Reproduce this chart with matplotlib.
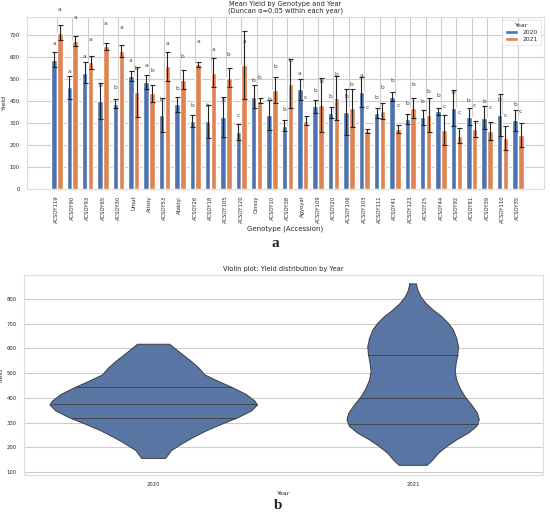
import numpy as np
import matplotlib
matplotlib.use("Agg")
import matplotlib.pyplot as plt
import seaborn as sns

# =================================================================
# Datos
# =================================================================
genotypes = ["ACSOY119", "ACSOY90", "ACSOY93", "ACSOY65", "ACSOY30", "Umut", "Arisoy",
             "ACSOY53", "Atakişi", "ACSOY26", "ACSOY18", "ACSOY105", "ACSOY120", "Cinsoy",
             "ACSOY10", "ACSOY38", "Agyoyal", "ACSOY109", "ACSOY20", "ACSOY106", "ACSOY103",
             "ACSOY111", "ACSOY41", "ACSOY123", "ACSOY25", "ACSOY44", "ACSOY92", "ACSOY81",
             "ACSOY39", "ACSOY110", "ACSOY35"]

mean_2020 = [587, 461, 528, 398, 387, 512, 487, 335, 383, 306, 306, 327, 260, 419, 335,
             287, 452, 375, 346, 348, 441, 344, 419, 317, 326, 352, 367, 328, 323, 334, 311]
err_2020 = [34, 52, 48, 81, 21, 24, 32, 78, 36, 27, 74, 91, 36, 54, 68,
            24, 47, 29, 25, 104, 68, 23, 22, 23, 34, 17, 83, 39, 52, 95, 49]
letters_2020 = ["a", "a", "a", "b", "b", "a", "a", "b", "b", "b", "b", "b", "c", "b", "b",
                "b", "a", "b", "b", "b", "a", "b", "b", "b", "b", "b", "b", "b", "b", "b", "b"]

mean_2021 = [709, 671, 575, 647, 626, 440, 434, 556, 496, 565, 528, 505, 563, 401, 451,
             478, 310, 381, 412, 367, 264, 353, 272, 367, 335, 267, 242, 273, 263, 230, 245]
err_2021 = [33, 23, 30, 17, 28, 114, 39, 65, 42, 11, 66, 44, 155, 11, 59,
            112, 21, 121, 99, 86, 9, 36, 20, 46, 77, 68, 36, 36, 39, 55, 53]
letters_2021 = ["a", "a", "a", "a", "a", "b", "b", "a", "b", "a", "a", "b", "a", "b", "b",
                "b", "c", "b", "b", "b", "c", "b", "c", "b", "b", "c", "c", "c", "c", "c", "c"]

years = ["2020", "2021"]

# Contorno del violín (rendimiento, semi-ancho en unidades del eje x)
v2020_yield = [617, 600, 573, 547, 520, 493, 467, 440, 413, 387, 371, 347, 320, 293,
               267, 240, 213, 187, 155]
v2020_half = [0.062, 0.082, 0.114, 0.146, 0.175, 0.197, 0.249, 0.307, 0.358, 0.390,
              0.400, 0.377, 0.326, 0.262, 0.204, 0.153, 0.108, 0.069, 0.046]
v2021_yield = [861, 836, 809, 782, 755, 729, 702, 675, 641, 607, 574, 540, 506, 472,
               439, 405, 371, 338, 311, 284, 257, 230, 203, 176, 149, 127]
v2021_half = [0.013, 0.018, 0.030, 0.050, 0.078, 0.110, 0.136, 0.155, 0.168, 0.175,
              0.172, 0.166, 0.162, 0.168, 0.181, 0.200, 0.226, 0.248, 0.255, 0.245,
              0.213, 0.168, 0.130, 0.098, 0.076, 0.054]
quart_2020 = [317, 376, 444]
quart_2021 = [293, 398, 572]

# =================================================================
# Estilo
# =================================================================
sns.set_style("whitegrid")
plt.rcParams['font.family'] = ['DejaVu Sans']
plt.rcParams['font.size'] = 4.5
blue = "#4C72B0"
orange = "#DD8452"
violin_col = "#5875A4"
txt = "#262626"

fig = plt.figure(figsize=(5.5, 5.16), dpi=100)

# =================================================================
# (a) Barras por genotipo y año
# =================================================================
ax1 = fig.add_axes([0.049, 0.634, 0.940, 0.333])
x = np.arange(len(genotypes))
w = 0.36
ekw = dict(ecolor="#222222", elinewidth=0.8, capsize=1.8, capthick=0.8)
ax1.bar(x - 0.19, mean_2020, w, yerr=err_2020, color=blue, label=years[0], error_kw=ekw, zorder=2)
ax1.bar(x + 0.19, mean_2021, w, yerr=err_2021, color=orange, label=years[1], error_kw=ekw, zorder=2)
for i in range(len(genotypes)):
    ax1.text(x[i] - 0.19, mean_2020[i] + 72, letters_2020[i], ha="center", va="center",
             fontsize=4.3, color="#444444")
    ax1.text(x[i] + 0.19, mean_2021[i] + 105, letters_2021[i], ha="center", va="center",
             fontsize=4.3, color="#444444")
ax1.set_xlim(-1.95, 31.7)
ax1.set_ylim(0, 780)
ax1.set_yticks(range(0, 701, 100))
ax1.set_xticks(x)
ax1.set_xticklabels(genotypes, rotation=90)
ax1.tick_params(labelsize=3.8, pad=1.5, colors=txt)
ax1.set_ylabel("Yield", fontsize=4.5, color=txt, labelpad=2)
ax1.set_xlabel("Genotype (Accession)", fontsize=5, color=txt, labelpad=1.5)
ax1.set_title("Mean Yield by Genotype and Year\n(Duncan α=0.05 within each year)",
              fontsize=4.8, color=txt, pad=3, linespacing=1.1)
for s in ax1.spines.values():
    s.set_color("#dddddd")
leg = ax1.legend(title="Year", loc="upper right", fontsize=4.3, title_fontsize=4.5,
                 frameon=True, borderpad=0.5, handlelength=2.2, labelspacing=0.3)
leg.get_frame().set_edgecolor("#dddddd")
leg.get_frame().set_linewidth(0.6)

fig.text(0.50, 0.528, "a", fontsize=11, fontweight="bold", family="Liberation Serif",
         ha="center", va="center")

# =================================================================
# (b) Violines por año
# =================================================================
ax2 = fig.add_axes([0.0436, 0.0795, 0.9434, 0.3875])
profiles = [(v2020_yield, v2020_half, quart_2020), (v2021_yield, v2021_half, quart_2021)]
for pos, (yy, hh, qq) in enumerate(profiles):
    yy = np.array(yy)
    hh = np.array(hh)
    ax2.fill_betweenx(yy, pos - hh, pos + hh, facecolor=violin_col, edgecolor="none", zorder=2)
    ax2.plot(np.r_[pos - hh, (pos + hh)[::-1], pos - hh[0]], np.r_[yy, yy[::-1], yy[0]],
             color="#3d3d3d", lw=0.7, zorder=3)
    for q in qq:
        half = np.interp(q, yy[::-1], hh[::-1])
        ax2.plot([pos - half, pos + half], [q, q], color="#3d3d3d", lw=0.6, zorder=3)
ax2.set_xlim(-0.5, 1.5)
ax2.set_ylim(88, 897)
ax2.set_xticks([0, 1])
ax2.set_xticklabels(years)
ax2.set_yticks(range(100, 801, 100))
ax2.xaxis.grid(False)
ax2.tick_params(labelsize=3.8, pad=1.5, colors=txt)
ax2.set_ylabel("Yield", fontsize=4.5, color=txt, labelpad=2)
ax2.set_xlabel("Year", fontsize=4.5, color=txt, labelpad=3)
ax2.set_title("Violin plot: Yield distribution by Year", fontsize=4.8, color=txt, pad=3)
for s in ax2.spines.values():
    s.set_color("#dddddd")

fig.text(0.505, 0.021, "b", fontsize=11, fontweight="bold", family="Liberation Serif",
         ha="center", va="center")

fig.savefig("out.png", dpi=100)
